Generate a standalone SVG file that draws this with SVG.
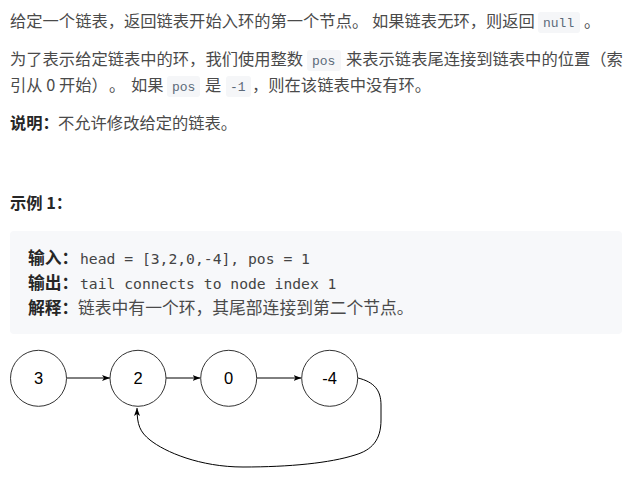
<svg xmlns="http://www.w3.org/2000/svg" width="628" height="479" viewBox="0 0 628 479">
<style>
.t{font-family:"Noto Sans CJK SC","Liberation Sans",sans-serif;font-size:16.3px;fill:#4a4a4a}
.b{font-family:"Noto Sans CJK SC","Liberation Sans",sans-serif;font-size:16.3px;font-weight:bold;fill:#262626}
.cb{font-family:"Noto Sans CJK SC","Liberation Sans",sans-serif;font-size:16.8px;font-weight:bold;fill:#262626}
.ct{font-family:"Noto Sans CJK SC","Liberation Sans",sans-serif;font-size:16.8px;fill:#4a4a4a}
.m{font-family:"DejaVu Sans Mono","Liberation Mono",monospace;font-size:14.7px;fill:#444}
.ic{font-family:"Liberation Mono","DejaVu Sans Mono",monospace;font-size:13px;fill:#5c6a7a}
.icb{fill:#f5f6f8}
.node circle{fill:#fff;stroke:#333;stroke-width:1}
.node text{font-family:"Liberation Sans",Arial,sans-serif;font-size:16.5px;fill:#000;text-anchor:middle}
.edge{fill:none;stroke:#000;stroke-width:1}
</style>
<defs>
<marker id="arr" markerUnits="userSpaceOnUse" markerWidth="10" markerHeight="8" refX="8" refY="3" orient="auto">
<path d="M0,0 L8,3 L0,6 L2,3 z" fill="#000"/>
</marker>
</defs>
<rect width="628" height="479" fill="#fff"/>

<g id="text-intro">
<text class="t" x="10" y="27">给定一个链表，返回链表开始入环的第一个节点。</text>
<text class="t" x="372" y="27">如果链表无环，则返回</text>
<rect class="icb" x="538" y="12" width="42" height="21" rx="3"/>
<text class="ic" x="543" y="27">null</text>
<text class="t" x="584" y="27">。</text>

<text class="t" x="10" y="65">为了表示给定链表中的环，我们使用整数</text>
<rect class="icb" x="307" y="50" width="34" height="21" rx="3"/>
<text class="ic" x="312" y="65">pos</text>
<text class="t" x="346" y="65">来表示链表尾连接到链表中的位置（索</text>

<text class="t" x="10" y="91">引从 0 开始）</text>
<text class="t" x="109" y="91">。</text>
<text class="t" x="131" y="91">如果</text>
<rect class="icb" x="167" y="76" width="33" height="21" rx="3"/>
<text class="ic" x="172" y="91">pos</text>
<text class="t" x="205" y="91">是</text>
<rect class="icb" x="226" y="76" width="25" height="21" rx="3"/>
<text class="ic" x="230" y="91">-1</text>
<text class="t" x="252" y="91">，则在该链表中没有环。</text>

<text class="b" x="10" y="129">说明：</text>
<text class="t" x="58" y="129">不允许修改给定的链表。</text>

<text class="b" x="10" y="209">示例 1：</text>
</g>

<g id="example-box">
<rect x="10" y="231" width="612" height="103" rx="4" fill="#f7f8fa"/>
<text class="cb" x="28" y="263.5">输入：</text>
<text class="m" x="80" y="263.5">head = [3,2,0,-4], pos = 1</text>
<text class="cb" x="28" y="289">输出：</text>
<text class="m" x="80" y="289">tail connects to node index 1</text>
<text class="cb" x="28" y="314">解释：</text>
<text class="ct" x="78" y="314">链表中有一个环，其尾部连接到第二个节点。</text>
</g>

<g id="connectors">
<line class="edge" x1="67" y1="378" x2="110" y2="378" marker-end="url(#arr)"/>
<line class="edge" x1="166" y1="378" x2="200.5" y2="378" marker-end="url(#arr)"/>
<line class="edge" x1="257" y1="378" x2="301.5" y2="378" marker-end="url(#arr)"/>
<path class="edge" d="M358,378 C374,382 381,390 381,405 L381,420 C381,440 372,450 355,455 C330,463 290,467 243,467 C200,467 165,452 150,440 C140,432 137,425 137,408" marker-end="url(#arr)"/>
</g>

<g id="node-3" class="node"><circle cx="38.5" cy="378.3" r="28"/><text x="38.5" y="384">3</text></g>
<g id="node-2" class="node"><circle cx="138" cy="378.3" r="28"/><text x="138" y="384">2</text></g>
<g id="node-0" class="node"><circle cx="228.7" cy="378.3" r="28"/><text x="228.7" y="384">0</text></g>
<g id="node-m4" class="node"><circle cx="329.7" cy="378.3" r="28"/><text x="329.7" y="384">-4</text></g>
</svg>
